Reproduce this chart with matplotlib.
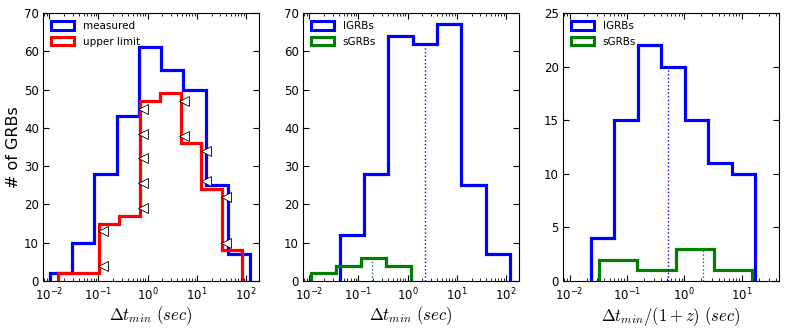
import matplotlib
matplotlib.use('Agg')
import matplotlib.pyplot as plt
import matplotlib.patches as mpatches
import numpy as np

plt.rcParams['mathtext.fontset'] = 'cm'
plt.rcParams['font.family'] = 'DejaVu Sans'

# panel 1: measured vs upper limit (log10 bin edges)
meas_edges = [-1.986, -1.534, -1.082, -0.630, -0.178, 0.274, 0.726, 1.178, 1.630, 2.082]
meas_counts = [2, 10, 28, 43, 61, 55, 50, 25, 7]
ul_edges = [-1.83, -1.413, -0.996, -0.579, -0.162, 0.255, 0.672, 1.089, 1.506, 1.923]
ul_counts = [2, 2, 15, 17, 47, 49, 36, 24, 8]
tri_x = [0.125, 0.125, 0.815, 0.815, 0.815, 0.815, 0.815, 5.55, 5.55, 15.3, 15.3, 39.0, 39.0]
tri_y = [4, 13, 19, 25.5, 32, 38.5, 45, 38, 47, 26, 34, 10, 22]

# panel 2: lGRBs / sGRBs, observed frame
l_edges = [-1.377, -0.883, -0.389, 0.105, 0.599, 1.093, 1.587, 2.081]
l_counts = [12, 28, 64, 62, 67, 25, 7]
s_edges = [-1.966, -1.458, -0.950, -0.442, 0.066]
s_counts = [2, 4, 6, 4]
l_median, s_median = 2.24, 0.19

# panel 3: lGRBs / sGRBs, rest frame
lz_edges = [-1.629, -1.219, -0.809, -0.399, 0.011, 0.421, 0.831, 1.241]
lz_counts = [4, 15, 22, 20, 15, 11, 10]
sz_edges = [-1.483, -0.816, -0.149, 0.518, 1.185]
sz_counts = [2, 1, 3, 1]
lz_median, sz_median = 0.53, 2.15

fig = plt.figure(figsize=(7.89, 3.32), dpi=100)
W, H = 789.0, 332.0
lefts = [43, 303, 563]
axes = [fig.add_axes([l / W, 1 - 281 / H, 216 / W, 268 / H]) for l in lefts]


def style(ax, xlim, ylim, yticks):
    ax.set_xscale('log')
    ax.set_xlim(*xlim)
    ax.set_ylim(*ylim)
    ax.set_yticks(yticks)
    ax.tick_params(which='both', direction='in', top=True, right=True, labelsize=8.5)
    ax.tick_params(which='major', length=4)
    ax.tick_params(which='minor', length=2)
    ax.tick_params(axis='x', pad=4)
    ax.tick_params(axis='y', pad=3)


def legend(ax, labels, colors):
    handles = [mpatches.Patch(facecolor='none', edgecolor=c, lw=2.2) for c in colors]
    ax.legend(handles, labels, loc='upper left', frameon=False, fontsize=7.5,
              handlelength=2.2, handleheight=0.9, borderaxespad=0.4, labelspacing=0.5)


lw = 2.3
ax = axes[0]
ax.stairs(meas_counts, 10 ** np.array(meas_edges), baseline=0, color='blue', lw=lw)
ax.stairs(ul_counts, 10 ** np.array(ul_edges), baseline=0, color='red', lw=lw)
ax.plot(tri_x, tri_y, ls='none', marker='<', ms=6.5, mfc='white', mec='black', mew=0.6)
style(ax, (0.0075, 183), (0, 70), range(0, 71, 10))
legend(ax, ['measured', 'upper limit'], ['blue', 'red'])
ax.set_ylabel('# of GRBs', fontsize=11.5, labelpad=2)
ax.set_xlabel(r'$\Delta t_{min}\ (sec)$', fontsize=12, labelpad=1)

ax = axes[1]
ax.stairs(l_counts, 10 ** np.array(l_edges), baseline=0, color='blue', lw=lw)
ax.stairs(s_counts, 10 ** np.array(s_edges), baseline=0, color='green', lw=lw)
ax.vlines(l_median, 0, 61.5, colors='blue', linestyles=':', lw=1)
ax.vlines(s_median, 0, 6, colors='green', linestyles=':', lw=1)
style(ax, (0.0075, 183), (0, 70), range(0, 71, 10))
legend(ax, ['lGRBs', 'sGRBs'], ['blue', 'green'])
ax.set_xlabel(r'$\Delta t_{min}\ (sec)$', fontsize=12, labelpad=1)

ax = axes[2]
ax.stairs(lz_counts, 10 ** np.array(lz_edges), baseline=0, color='blue', lw=lw)
ax.stairs(sz_counts, 10 ** np.array(sz_edges), baseline=0, color='green', lw=lw)
ax.vlines(lz_median, 0, 20, colors='blue', linestyles=':', lw=1)
ax.vlines(sz_median, 0, 3, colors='green', linestyles=':', lw=1)
style(ax, (0.0077, 45), (0, 25), range(0, 26, 5))
legend(ax, ['lGRBs', 'sGRBs'], ['blue', 'green'])
ax.set_xlabel(r'$\Delta t_{min}/(1+z)\ (sec)$', fontsize=12, labelpad=1)

fig.savefig('out.png', dpi=100)
